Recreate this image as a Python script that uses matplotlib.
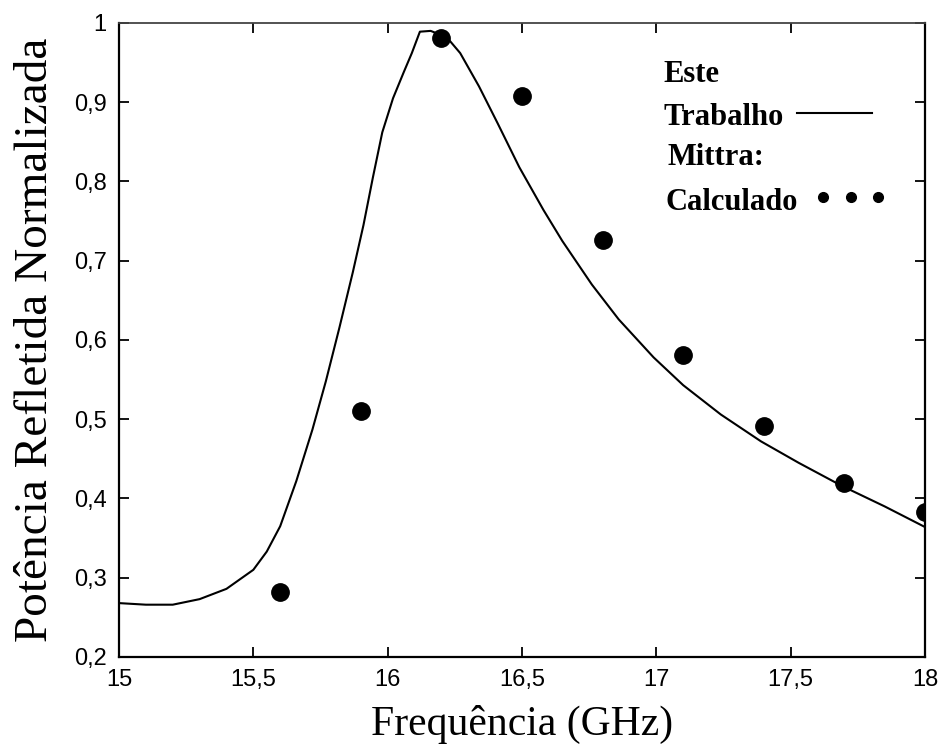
import matplotlib
matplotlib.use("Agg")
import matplotlib.pyplot as plt
from matplotlib.ticker import FixedLocator, FixedFormatter

# Simulated reflected power (this work)
freq_curve = [15.0, 15.1, 15.2, 15.3, 15.4, 15.5, 15.55, 15.6, 15.66, 15.72,
              15.77, 15.82, 15.87, 15.91, 15.945, 15.98, 16.02, 16.06, 16.09,
              16.12, 16.16, 16.22, 16.27, 16.34, 16.41, 16.49, 16.58, 16.65,
              16.76, 16.86, 16.99, 17.1, 17.24, 17.39, 17.53, 17.69,
              17.85, 18.0]
power_curve = [0.268, 0.266, 0.266, 0.273, 0.286, 0.31, 0.333, 0.365, 0.422,
               0.487, 0.548, 0.615, 0.685, 0.745, 0.805, 0.862, 0.905, 0.938,
               0.962, 0.989, 0.99, 0.982, 0.962, 0.92, 0.873, 0.818, 0.764,
               0.725, 0.67, 0.626, 0.578, 0.543, 0.506, 0.472, 0.445,
               0.416, 0.39, 0.364]

# Mittra: calculated points
freq_mittra = [15.6, 15.9, 16.2, 16.5, 16.8, 17.1, 17.4, 17.7, 18.0]
power_mittra = [0.282, 0.51, 0.981, 0.908, 0.726, 0.581, 0.491, 0.42, 0.383]

x_ticks = [15, 15.5, 16, 16.5, 17, 17.5, 18]
x_tick_labels = ["15", "15,5", "16", "16,5", "17", "17,5", "18"]
y_ticks = [0.2, 0.3, 0.4, 0.5, 0.6, 0.7, 0.8, 0.9, 1.0]
y_tick_labels = ["0,2", "0,3", "0,4", "0,5", "0,6", "0,7", "0,8", "0,9", "1"]

serif = "Liberation Serif"
sans = "Liberation Sans"

fig = plt.figure(figsize=(9.4, 7.53), dpi=100)
ax = fig.add_axes([0.1266, 0.1275, 0.8574, 0.842])

ax.plot(freq_curve, power_curve, color="black", lw=1.5, solid_joinstyle="round")
ax.plot(freq_mittra, power_mittra, linestyle="none", marker="o",
        markersize=12.5, color="black")

ax.set_xlim(15, 18)
ax.set_ylim(0.2, 1.0)
ax.xaxis.set_major_locator(FixedLocator(x_ticks))
ax.xaxis.set_major_formatter(FixedFormatter(x_tick_labels))
ax.yaxis.set_major_locator(FixedLocator(y_ticks))
ax.yaxis.set_major_formatter(FixedFormatter(y_tick_labels))

ax.tick_params(direction="in", length=7, width=1.3, top=True, right=True,
               labelsize=17, pad=9)
for lab in ax.get_xticklabels() + ax.get_yticklabels():
    lab.set_fontfamily(sans)

for side in ("left", "bottom", "right"):
    ax.spines[side].set_linewidth(1.6)
ax.spines["top"].set_linewidth(1.3)
ax.spines["top"].set_color("#444444")

ax.set_xlabel("Frequência (GHz)", fontsize=30, family=serif, labelpad=10)
ax.set_ylabel("Potência Refletida Normalizada", fontsize=34, family=serif,
              labelpad=12)

# In-plot key
key_font = dict(fontsize=22, family=serif, fontweight="bold",
                transform=ax.transAxes, va="baseline", ha="left")
ax.text(0.675, 0.907, "Este", **key_font)
ax.text(0.675, 0.839, "Trabalho", **key_font)
ax.text(0.681, 0.776, "Mittra:", **key_font)
ax.text(0.678, 0.705, "Calculado", **key_font)
ax.plot([0.841, 0.934], [0.858, 0.858], color="black", lw=1.5,
        transform=ax.transAxes, clip_on=False)
ax.plot([0.873, 0.908, 0.942], [0.725, 0.725, 0.725], linestyle="none",
        marker="o", markersize=7, color="black", transform=ax.transAxes,
        clip_on=False)

fig.savefig("out.png", dpi=100)
